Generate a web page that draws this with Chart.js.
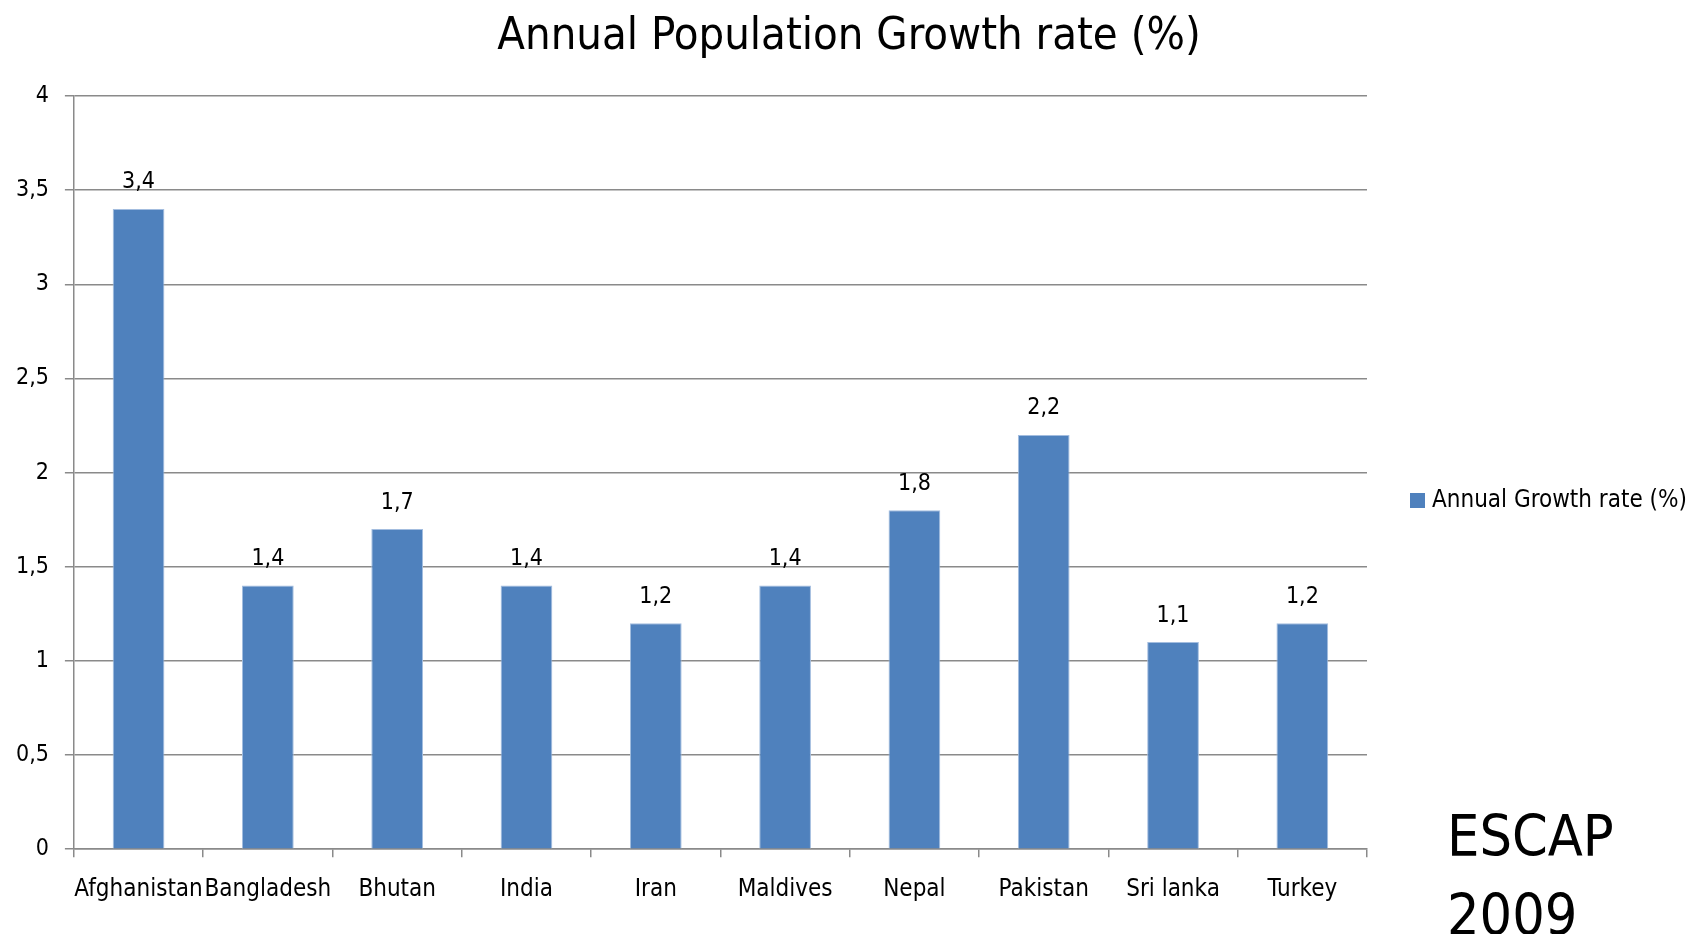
<!DOCTYPE html>
<html>
<head>
<meta charset="utf-8">
<title>Annual Population Growth rate (%)</title>
<script src="https://cdn.jsdelivr.net/npm/chart.js@4/dist/chart.umd.min.js"></script>
<style>
  html, body { margin: 0; padding: 0; background: #fff; }
  #wrap { width: 1690px; height: 934px; position: relative; }
</style>
</head>
<body>
<div id="wrap"><canvas id="growth"></canvas></div>
<script>
const countries = ['Afghanistan', 'Bangladesh', 'Bhutan', 'India', 'Iran', 'Maldives', 'Nepal', 'Pakistan', 'Sri lanka', 'Turkey'];
const growthRate = [3.4, 1.4, 1.7, 1.4, 1.2, 1.4, 1.8, 2.2, 1.1, 1.2];
const seriesName = 'Annual Growth rate (%)';
const chartTitle = 'Annual Population Growth rate (%)';
const sourceLines = ['ESCAP', '2009'];

const FONT = "'Liberation Sans Narrow', 'DejaVu Sans Condensed', 'Liberation Sans', sans-serif";
const BAR_COLOR = '#4f81bd';
const GRID_COLOR = '#8a8a8a';

const fmt = v => v.toLocaleString('de-DE');

// value labels above each bar
const valueLabels = {
    id: 'valueLabels',
    afterDatasetsDraw(chart) {
        const ctx = chart.ctx;
        const meta = chart.getDatasetMeta(0);
        ctx.save();
        ctx.font = '23px ' + FONT;
        ctx.fillStyle = '#000';
        ctx.textAlign = 'center';
        ctx.textBaseline = 'bottom';
        meta.data.forEach((bar, i) => {
            ctx.fillText(fmt(growthRate[i]), bar.x, bar.y - 15);
        });
        ctx.restore();
    }
};

// title, legend box and source note
const decorations = {
    id: 'decorations',
    afterDraw(chart) {
        const ctx = chart.ctx;
        const area = chart.chartArea;
        ctx.save();
        ctx.fillStyle = '#000';
        ctx.textAlign = 'center';
        ctx.textBaseline = 'middle';
        ctx.font = '45px ' + FONT;
        ctx.fillText(chartTitle, 849, 37);

        ctx.fillStyle = BAR_COLOR;
        ctx.fillRect(area.right + 43, 493, 15, 15);
        ctx.fillStyle = '#000';
        ctx.textAlign = 'left';
        ctx.font = '24px ' + FONT;
        ctx.fillText(seriesName, area.right + 65, 501);

        ctx.textBaseline = 'alphabetic';
        ctx.font = '57px ' + FONT;
        sourceLines.forEach((t, i) => ctx.fillText(t, 1447, 856 + i * 79));
        ctx.restore();
    }
};

new Chart(document.getElementById('growth'), {
    type: 'bar',
    data: {
        labels: countries,
        datasets: [{
            label: seriesName,
            data: growthRate,
            backgroundColor: BAR_COLOR,
            borderColor: '#a3bddf',
            borderWidth: 1,
            categoryPercentage: 1,
            barPercentage: 0.4
        }]
    },
    options: {
        responsive: true,
        maintainAspectRatio: false,
        animation: false,
        layout: { padding: { top: 96, right: 323, left: 0, bottom: 12 } },
        plugins: {
            legend: { display: false },
            title: { display: false },
            tooltip: { enabled: false }
        },
        scales: {
            x: {
                grid: {
                    offset: true,
                    drawOnChartArea: false,
                    tickLength: 8,
                    color: GRID_COLOR,
                    lineWidth: 1.5
                },
                border: { color: GRID_COLOR, width: 1.5 },
                ticks: {
                    color: '#000',
                    font: { family: FONT, size: 24 },
                    padding: 18,
                    autoSkip: false,
                    maxRotation: 0
                }
            },
            y: {
                min: 0,
                max: 4,
                grid: {
                    color: GRID_COLOR,
                    lineWidth: 1.5,
                    tickLength: 9
                },
                border: { color: GRID_COLOR, width: 1.5 },
                ticks: {
                    stepSize: 0.5,
                    color: '#000',
                    padding: 16,
                    font: { family: FONT, size: 23 },
                    callback: v => fmt(v)
                }
            }
        }
    },
    plugins: [valueLabels, decorations]
});
</script>
</body>
</html>
